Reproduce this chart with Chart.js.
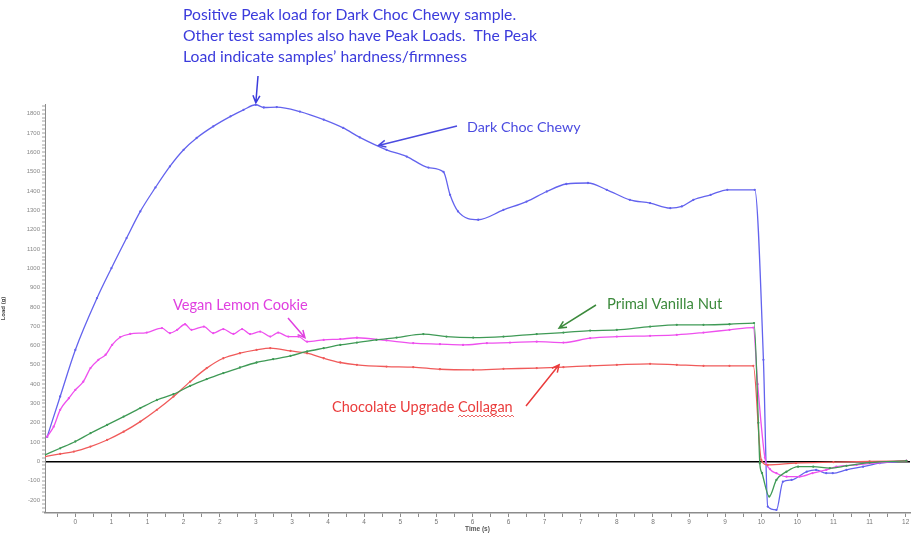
<!DOCTYPE html>
<html lang="en">
<head>
<meta charset="UTF-8" />
<title>Texture analysis - Load vs Time</title>
<script src="https://cdn.jsdelivr.net/npm/chart.js"></script>
<style>
  html, body { margin: 0; padding: 0; background: #fff; }
  .chart-wrapper { position: relative; width: 920px; height: 533px; }
</style>
</head>
<body>
<div class="chart-wrapper">
  <canvas id="loadChart"></canvas>
</div>

<script>
// time (s) / load (g)
const darkChocTime = [-0.39, -0.21, 0, 0.30, 0.50, 0.71, 0.90, 1.11, 1.31, 1.50, 1.68, 1.91, 2.15, 2.33, 2.50, 2.61, 2.79, 3.11, 3.44, 3.71, 3.94, 4.31, 4.59, 4.89, 5.10, 5.19, 5.30, 5.58, 5.93, 6.25, 6.53, 6.80, 7.10, 7.36, 7.68, 7.96, 8.24, 8.40, 8.56, 8.80, 9.03, 9.41, 9.53, 9.59, 9.71, 9.80, 9.92, 10.13, 10.26, 10.40, 10.49, 10.68, 10.91, 11.14, 11.51];
const darkChocLoad = [127, 336, 577, 845, 1000, 1156, 1294, 1418, 1527, 1613, 1674, 1734, 1786, 1820, 1846, 1832, 1834, 1811, 1769, 1726, 1677, 1613, 1578, 1521, 1498, 1380, 1294, 1251, 1302, 1345, 1397, 1436, 1441, 1406, 1354, 1337, 1311, 1320, 1354, 1380, 1406, 1406, 526, -234, -251, -105, -96, -53, -44, -61, -61, -44, -27, -9, 3];

const veganTime = [-0.39, -0.30, -0.21, -0.09, 0, 0.11, 0.21, 0.32, 0.42, 0.51, 0.62, 0.76, 0.99, 1.20, 1.31, 1.41, 1.52, 1.61, 1.78, 1.91, 2.05, 2.19, 2.31, 2.42, 2.56, 2.70, 2.81, 2.95, 3.09, 3.21, 3.44, 3.67, 3.90, 4.31, 4.68, 5.05, 5.37, 5.70, 6.02, 6.39, 6.76, 7.13, 7.50, 7.96, 8.33, 8.70, 9.06, 9.39, 9.45, 9.55, 9.62, 9.71, 9.85, 10.03, 10.21, 10.40, 10.54, 10.82, 11.14, 11.51];
const veganLoad = [128, 180, 267, 327, 370, 413, 483, 526, 552, 603, 643, 660, 667, 690, 664, 681, 710, 681, 698, 664, 685, 660, 685, 659, 672, 646, 667, 646, 646, 620, 629, 633, 640, 626, 612, 607, 603, 612, 615, 620, 615, 638, 646, 650, 655, 667, 681, 693, 400, 20, -40, -61, -79, -79, -61, -44, -27, -18, -6, 3];

const primalTime = [-0.42, -0.21, 0, 0.21, 0.44, 0.67, 0.90, 1.13, 1.36, 1.59, 1.82, 2.05, 2.28, 2.51, 2.74, 2.98, 3.21, 3.44, 3.67, 3.90, 4.17, 4.45, 4.82, 5.14, 5.51, 5.93, 6.39, 6.76, 7.13, 7.50, 7.96, 8.33, 8.70, 9.06, 9.40, 9.46, 9.48, 9.51, 9.61, 9.71, 9.85, 10.01, 10.22, 10.45, 10.68, 11.00, 11.51];
const primalLoad = [34, 68, 103, 146, 189, 232, 276, 318, 348, 391, 426, 457, 486, 512, 529, 546, 569, 586, 603, 615, 629, 641, 659, 646, 641, 646, 659, 667, 677, 681, 698, 707, 707, 710, 716, 200, -10, -60, -182, -96, -53, -27, -27, -35, -23, -6, 3];

const collagenTime = [-0.42, -0.21, -0.02, 0.21, 0.44, 0.67, 0.90, 1.13, 1.36, 1.59, 1.82, 2.05, 2.28, 2.51, 2.70, 2.98, 3.21, 3.44, 3.67, 3.90, 4.31, 4.68, 5.05, 5.51, 5.93, 6.39, 6.76, 7.13, 7.50, 7.96, 8.33, 8.70, 9.06, 9.39, 9.50, 9.59, 9.98, 10.50, 11.00, 11.51];
const collagenLoad = [25, 39, 51, 77, 111, 154, 206, 267, 336, 413, 483, 534, 560, 577, 586, 572, 560, 534, 512, 500, 491, 488, 477, 474, 479, 483, 488, 495, 500, 505, 500, 495, 495, 495, 8, -18, -9, -4, 0, 3];

const timeMin = -0.42, timeMax = 11.56;
const loadMin = -267, loadMax = 1850;

function pts(xs, ys) {
  return xs.map((x, i) => ({ x: x, y: ys[i] }));
}

function series(label, xs, ys, color) {
  return {
    label: label,
    data: pts(xs, ys),
    borderColor: color,
    backgroundColor: color,
    borderWidth: 1.3,
    pointRadius: 0.5,
    pointHoverRadius: 0,
    cubicInterpolationMode: 'monotone',
    fill: false
  };
}

// text and arrows drawn over the plot
const notes = {
  id: 'notes',
  afterDraw(chart) {
    const c = chart.ctx;
    const xs = chart.scales.x, ys = chart.scales.y;
    const X = v => xs.getPixelForValue(v), Y = v => ys.getPixelForValue(v);

    function arrow(x1, y1, x2, y2, color) {
      const a = Math.atan2(y2 - y1, x2 - x1), h = 8;
      c.save();
      c.strokeStyle = color;
      c.lineWidth = 1.5;
      c.beginPath();
      c.moveTo(x1, y1); c.lineTo(x2, y2);
      c.moveTo(x2 - h * Math.cos(a - 0.45), y2 - h * Math.sin(a - 0.45));
      c.lineTo(x2, y2);
      c.lineTo(x2 - h * Math.cos(a + 0.45), y2 - h * Math.sin(a + 0.45));
      c.stroke();
      c.restore();
    }
    function text(str, x, y, color, size) {
      c.save();
      c.font = size + 'px Lato, "Open Sans", sans-serif';
      c.fillStyle = color;
      c.textBaseline = 'middle';
      c.fillText(str, x, y);
      c.restore();
    }

    const blueTxt = '#3b3bdc';
    text('Positive Peak load for Dark Choc Chewy sample.', 183, 15, blueTxt, 15.7);
    text('Other test samples also have Peak Loads.  The Peak', 183, 36, blueTxt, 15.7);
    text('Load indicate samples\u2019 hardness/firmness', 183, 57, blueTxt, 15.7);
    arrow(258, 76, X(2.5), Y(1846) - 2, blueTxt);

    text('Dark Choc Chewy', 467, 127, '#4b4be0', 14.3);
    arrow(457, 126, X(4.2), Y(1620) - 3, '#4b4be0');

    text('Vegan Lemon Cookie', 173, 305, '#e040e0', 14.6);
    arrow(288, 318, X(3.18), Y(640), '#e040e0');

    text('Primal Vanilla Nut', 607, 304, '#3c8a3c', 14.8);
    arrow(596, 305, X(6.7), Y(690), '#3c8a3c');

    text('Chocolate Upgrade Collagan', 332, 407, '#ea3c3c', 14.5);
    arrow(526, 406, X(6.7), Y(500), '#ea3c3c');

    // spell-check squiggle under "Collagan"
    c.save();
    c.strokeStyle = '#e84040';
    c.lineWidth = 0.8;
    c.beginPath();
    for (let x = 458; x <= 514; x += 2) {
      const y = 416 + ((x / 2) % 2 ? 1 : -1);
      if (x === 458) c.moveTo(x, y); else c.lineTo(x, y);
    }
    c.stroke();
    c.restore();
  }
};

const ctx = document.getElementById('loadChart').getContext('2d');
new Chart(ctx, {
  type: 'line',
  data: {
    datasets: [
      series('Primal Vanilla Nut', primalTime, primalLoad, '#3f9a56'),
      series('Chocolate Upgrade Collagan', collagenTime, collagenLoad, '#f05a5a'),
      series('Vegan Lemon Cookie', veganTime, veganLoad, '#ee50ee'),
      series('Dark Choc Chewy', darkChocTime, darkChocLoad, '#6363ee')
    ]
  },
  options: {
    responsive: true,
    maintainAspectRatio: false,
    animation: false,
    layout: { padding: { top: 104, right: 10, left: 0, bottom: 0 } },
    plugins: {
      legend: { display: false },
      tooltip: { enabled: false }
    },
    scales: {
      x: {
        type: 'linear',
        min: timeMin,
        max: timeMax,
        afterBuildTicks: s => {
          const t = [];
          for (let v = -0.25; v <= 11.5 + 1e-6; v += 0.25) t.push({ value: Math.round(v * 100) / 100 });
          s.ticks = t;
        },
        afterFit: s => { s.height = 20; },
        border: { color: '#8c8c8c', width: 1.5 },
        grid: { drawOnChartArea: false, tickLength: 4, tickColor: '#8c8c8c' },
        ticks: {
          autoSkip: false,
          maxRotation: 0,
          padding: 1,
          color: '#777',
          font: { size: 6.5, family: 'Arial, Liberation Sans' },
          callback: v => (v >= 0 && Math.abs(v * 2 - Math.round(v * 2)) < 1e-6) ? String(Math.round(v)) : ''
        },
        title: {
          display: true,
          text: 'Time (s)',
          color: '#555',
          font: { size: 6.5, weight: 'bold', family: 'Arial, Liberation Sans' },
          padding: 0
        }
      },
      y: {
        min: loadMin,
        max: loadMax,
        afterBuildTicks: s => {
          const t = [];
          for (let v = -260; v <= 1840; v += 20) t.push({ value: v });
          s.ticks = t;
        },
        afterFit: s => { s.width = 45; },
        border: { color: '#8c8c8c', width: 1 },
        grid: {
          drawOnChartArea: true,
          color: c => (c.tick && c.tick.value === 0) ? '#000' : 'rgba(0,0,0,0)',
          lineWidth: c => (c.tick && c.tick.value === 0) ? 1.6 : 0,
          tickLength: 3,
          tickColor: '#8c8c8c',
          tickWidth: 0.8
        },
        ticks: {
          autoSkip: false,
          padding: 2,
          color: '#888',
          font: { size: 6, family: 'Arial, Liberation Sans' },
          callback: v => (v % 100 === 0) ? String(v) : ''
        },
        title: {
          display: true,
          text: 'Load (g)',
          color: '#444',
          font: { size: 6, weight: 'bold', family: 'Arial, Liberation Sans' },
          padding: 0
        }
      }
    }
  },
  plugins: [notes]
});
</script>
</body>
</html>
